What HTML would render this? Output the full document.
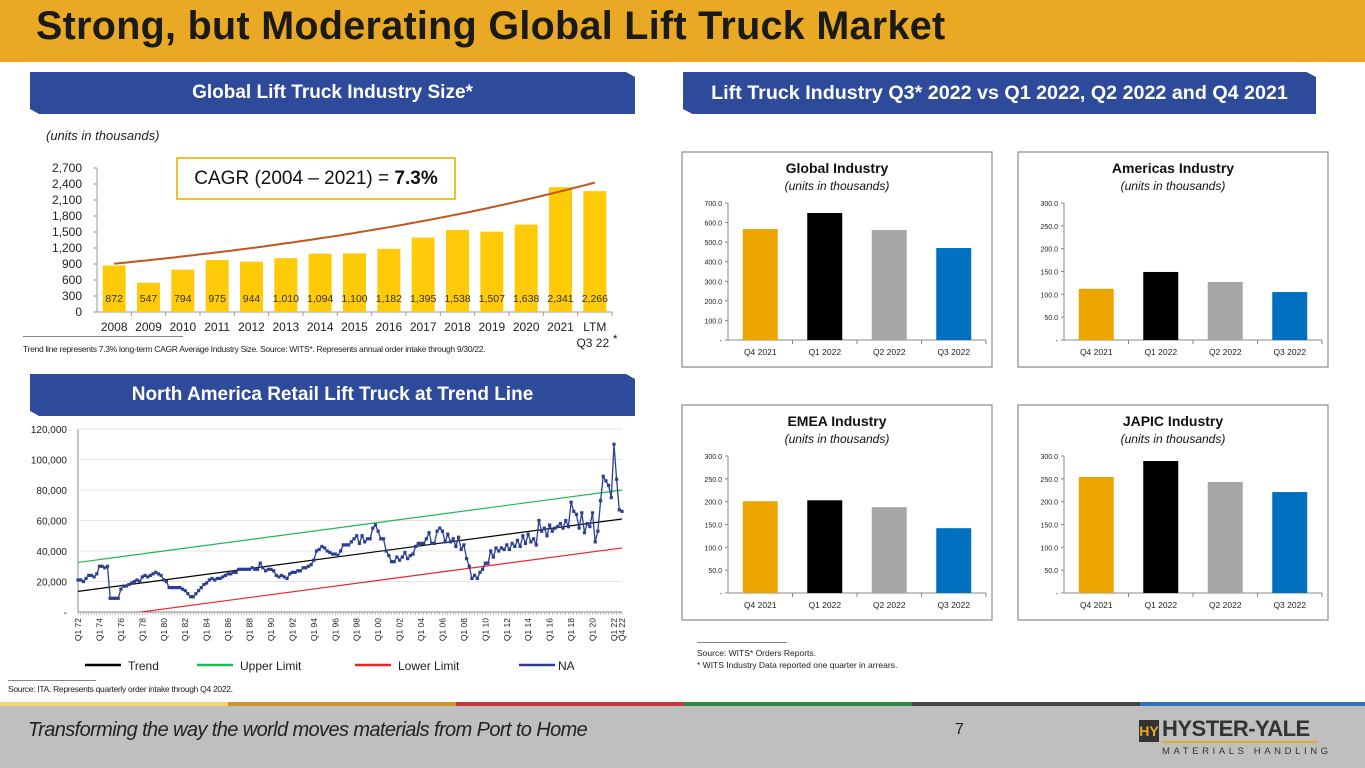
<!DOCTYPE html>
<html><head><meta charset="utf-8">
<style>
body{margin:0;width:1365px;height:768px;overflow:hidden;background:#fff;font-family:"Liberation Sans",sans-serif;position:relative}
.abs{position:absolute}
.banner{position:absolute;background:#2E4A9A;color:#fff;font-weight:bold;font-size:19px;text-align:center;line-height:42px;clip-path:polygon(0 0,98.5% 0,100% 12%,100% 100%,1.5% 100%,0 88%)}
</style></head><body>
<div class="abs" style="left:0;top:0;width:1365px;height:62px;background:#E9A924"></div>
<div class="abs" style="left:36px;top:4px;font-size:39.5px;font-weight:bold;color:#1a1a1a;letter-spacing:0.3px">Strong, but Moderating Global Lift Truck Market</div>
<div class="banner" style="left:30px;top:72px;width:605px;height:42px">Global Lift Truck Industry Size*</div>
<div class="banner" style="left:683px;top:72px;width:633px;height:42px;font-size:19.7px">Lift Truck Industry Q3* 2022 vs Q1 2022, Q2 2022 and Q4 2021</div>
<div class="banner" style="left:30px;top:374px;width:605px;height:42px">North America Retail Lift Truck at Trend Line</div>
<div class="abs" style="left:46px;top:128px;font-size:13px;font-style:italic;color:#222">(units in thousands)</div>
<div class="abs" style="left:176px;top:157px;width:276px;height:39px;border:2px solid #F2C12E;font-size:19px;line-height:39px;text-align:center;color:#111">CAGR (2004 – 2021) = <b>7.3%</b></div>

<svg class="abs" style="left:0;top:0" width="1365" height="768">
<g id="bar1"></g><g id="line1"></g><g id="small"></g>
</svg>

<div class="abs" style="left:23px;top:336px;width:160px;border-top:1px solid #888"></div>
<div class="abs" style="left:23px;top:344px;font-size:8.5px;color:#222;letter-spacing:-0.3px">Trend line represents 7.3% long-term CAGR Average Industry Size. Source:  WITS*.  Represents annual order intake through 9/30/22.</div>
<div class="abs" style="left:8px;top:680px;width:88px;border-top:1px solid #888"></div>
<div class="abs" style="left:8px;top:684px;font-size:8.5px;color:#222;letter-spacing:-0.3px">Source: ITA. Represents quarterly order intake through Q4 2022.</div>
<div class="abs" style="left:697px;top:642px;width:90px;border-top:1px solid #888"></div>
<div class="abs" style="left:697px;top:647px;font-size:8.5px;color:#222;line-height:12px">Source: WITS* Orders Reports.<br>* WITS Industry Data reported one quarter in arrears.</div>

<div class="abs" style="left:0;top:702px;width:228px;height:4px;background:#F3D57A"></div>
<div class="abs" style="left:228px;top:702px;width:228px;height:4px;background:#C8962A"></div>
<div class="abs" style="left:456px;top:702px;width:228px;height:4px;background:#C0393B"></div>
<div class="abs" style="left:684px;top:702px;width:228px;height:4px;background:#2E8B4E"></div>
<div class="abs" style="left:912px;top:702px;width:228px;height:4px;background:#444"></div>
<div class="abs" style="left:1140px;top:702px;width:225px;height:4px;background:#2F72B8"></div>
<div class="abs" style="left:0;top:706px;width:1365px;height:62px;background:#BFBFBF"></div>
<div class="abs" style="left:28px;top:719px;font-size:20px;font-style:italic;color:#222;letter-spacing:-0.6px">Transforming the way the world moves materials from Port to Home</div>
<div class="abs" style="left:955px;top:721px;font-size:16px;color:#222">7</div>
<div class="abs" style="left:1139px;top:720px;width:20px;height:22px;background:#333;color:#E9A924;font-weight:bold;font-size:14px;text-align:center;line-height:22px">HY</div>
<div class="abs" style="left:1162px;top:716px;font-size:22px;font-weight:bold;color:#333;letter-spacing:-0.5px">HYSTER-YALE</div>
<div class="abs" style="left:1162px;top:741px;width:156px;height:2px;background:#E9A924"></div>
<div class="abs" style="left:1162px;top:746px;font-size:9.5px;color:#333;letter-spacing:3.6px">MATERIALS HANDLING</div>

<script>
const NS="http://www.w3.org/2000/svg";
function mk(p,t,a,txt){const e=document.createElementNS(NS,t);for(const k in a)e.setAttribute(k,a[k]);if(txt!==undefined)e.textContent=txt;p.appendChild(e);return e;}

// ---- Chart 1: global industry size ----
const sizeYears=["2008","2009","2010","2011","2012","2013","2014","2015","2016","2017","2018","2019","2020","2021","LTM"];
const sizeValues=[872,547,794,975,944,1010,1094,1100,1182,1395,1538,1507,1638,2341,2266];
const sizeTicks=[0,300,600,900,1200,1500,1800,2100,2400,2700];
const cagrBase=[905];
const cagrRate=[0.073];

// ---- Chart 2: NA retail quarterly (thousands) ----
const naValues=[21,21,20,22,24,24,23,25,30,30,29,30,9,9,9,9,15,17,17,18,19,20,21,20,23,24,23,24,25,26,25,24,21,20,16,16,16,16,16,15,14,12,10,10,12,14,16,18,19,21,22,21,22,22,23,24,25,25,26,26,28,28,28,28,28,29,28,28,32,29,27,28,28,27,24,23,24,23,22,25,26,26,27,27,29,29,30,31,34,40,41,43,42,40,39,38,38,37,40,44,44,44,46,48,50,45,50,46,48,48,55,57,53,48,48,40,37,33,33,36,34,36,39,35,37,38,43,45,45,45,48,52,45,45,53,55,53,46,51,46,48,43,49,41,44,35,30,22,24,22,26,28,32,32,40,36,42,40,42,41,44,41,45,43,47,43,50,45,51,46,48,44,60,53,55,50,57,53,55,56,58,55,60,56,72,66,64,55,65,52,58,56,65,46,53,73,89,86,83,75,110,87,67,66];
const trendEnds=[13.5,61];
const bandWidth=[19];
const naTicks=[0,20000,40000,60000,80000,100000,120000];
const naTickLabels=["-","20,000","40,000","60,000","80,000","100,000","120,000"];

// ---- Small charts ----
const qCats=["Q4 2021","Q1 2022","Q2 2022","Q3 2022"];
const globalVals=[567,649,562,470];
const americasVals=[112,149,127,105];
const emeaVals=[201,203,188,142];
const japicVals=[254,289,243,221];
const globalTicks=[0,100,200,300,400,500,600,700];
const regionTicks=[0,50,100,150,200,250,300];

(function(){
 const g=document.getElementById('bar1');
 const x0=97,x1=612,y0=312,y1=168,max=2700;
 const bw=(x1-x0)/sizeYears.length;
 const y=v=>y0-(v/max)*(y0-y1);
 mk(g,'line',{x1:x0,y1:y1,x2:x0,y2:y0,stroke:'#999'});
 mk(g,'line',{x1:x0,y1:y0,x2:x1,y2:y0,stroke:'#999'});
 sizeTicks.forEach(t=>{const l=mk(g,'text',{x:82,y:y(t)+4,'text-anchor':'end','font-size':12,fill:'#222'},t.toLocaleString('en-US'));
  mk(g,'line',{x1:x0-4,y1:y(t),x2:x0,y2:y(t),stroke:'#999'});});
 sizeYears.forEach((c,i)=>{const cx=x0+bw*(i+.5);
  const r=mk(g,'rect',{x:cx-11.5,y:y(sizeValues[i]),width:23,height:y0-y(sizeValues[i]),fill:'#FFCA08'});
  
  const v=mk(g,'text',{x:cx,y:302,'text-anchor':'middle','font-size':10.5,fill:'#333'},sizeValues[i].toLocaleString('en-US'));
  
  const l=mk(g,'text',{x:cx,y:331,'text-anchor':'middle','font-size':12,fill:'#222'},c);
  
  mk(g,'line',{x1:x0+bw*(i+1),y1:y0,x2:x0+bw*(i+1),y2:y0+4,stroke:'#999'});
 });
 const q=mk(g,'text',{x:x0+bw*14.5-2,y:347,'text-anchor':'middle','font-size':12,fill:'#222'},'Q3 22');
 mk(g,'text',{x:x0+bw*14.5+18,y:343,'font-size':12,fill:'#222'},'*');
 let d='';for(let s=0;s<=140;s++){const i=s/10;const v=cagrBase[0]*Math.pow(1+cagrRate[0],i);d+=(s?'L':'M')+(x0+bw*(i+.5)).toFixed(1)+' '+y(v).toFixed(1);}
 const p=mk(g,'path',{d:d,fill:'none',stroke:'#C0571E','stroke-width':2});
})();

(function(){
 const g=document.getElementById('line1');
 const x0=78,x1=622,y0=612,y1=429,max=120000;
 const n=naValues.length;
 const x=i=>x0+i*(x1-x0)/(n-1);
 const y=v=>y0-(v/max)*(y0-y1);
 mk(g,'line',{x1:x0,y1:y1,x2:x0,y2:y0,stroke:'#888'});
 naTicks.forEach((t,k)=>{if(t>0)mk(g,'line',{x1:x0,y1:y(t),x2:x1,y2:y(t),stroke:'#e4e4e4'});
  const l=mk(g,'text',{x:67,y:y(t)+4,'text-anchor':'end','font-size':10,fill:'#222'},naTickLabels[k]);});
 mk(g,'line',{x1:x0,y1:y0,x2:x1,y2:y0,stroke:'#888'});
 for(let i=0;i<n;i++){mk(g,'line',{x1:x(i),y1:y0,x2:x(i),y2:y0+3,stroke:'#888','stroke-width':0.5});
  if(i%8===0){const yy=(72+i/4)%100;
   const l=mk(g,'text',{x:0,y:0,'font-size':8.5,fill:'#222','text-anchor':'end',transform:`translate(${x(i)+3},${y0+6}) rotate(-90)`},'Q1 '+String(yy).padStart(2,'0'));
   }}
 const l2=mk(g,'text',{x:0,y:0,'font-size':8.5,fill:'#222','text-anchor':'end',transform:`translate(${x(n-1)+3},${y0+6}) rotate(-90)`},'Q4 22');
 const tv=i=>trendEnds[0]+(trendEnds[1]-trendEnds[0])*i/(n-1);
 const clip=mk(g,'clipPath',{id:'lc'});mk(clip,'rect',{x:x0,y:y1,width:x1-x0,height:y0-y1});
 [[0,'#000','trend-line'],[bandWidth[0],'#1DB954','upper-limit-line'],[-bandWidth[0],'#E8262A','lower-limit-line']].forEach(([o,c,nm])=>{
  const ln=mk(g,'line',{x1:x(0),y1:y((tv(0)+o)*1000),x2:x(n-1),y2:y((tv(n-1)+o)*1000),stroke:c,'stroke-width':1.2,'clip-path':'url(#lc)'});
  });
 let d='';naValues.forEach((v,i)=>{d+=(i?'L':'M')+x(i).toFixed(1)+' '+y(v*1000).toFixed(1);});
 const p=mk(g,'path',{d:d,fill:'none',stroke:'#2B3F8F','stroke-width':1.3});
 naValues.forEach((v,i)=>{const m=mk(g,'rect',{x:x(i)-1.6,y:y(v*1000)-1.6,width:3.2,height:3.2,fill:'#2B3F8F'});});
 [[85,'#000','Trend'],[197,'#1DB954','Upper Limit'],[355,'#E8262A','Lower Limit'],[519,'#2B3F8F','NA']].forEach(([lx,c,t])=>{
  const e=mk(g,'line',{x1:lx,y1:665,x2:lx+36,y2:665,stroke:c,'stroke-width':2.5});
  const tt=mk(g,'text',{x:lx+(t==='NA'?39:43),y:670,'font-size':12,fill:'#222'},t);});
})();

(function(){
 const g=document.getElementById('small');
 const colors=['#EDA600','#000000','#A6A6A6','#0070C0'];
 const charts=[[682,152,'Global Industry',globalVals,globalTicks,700],[1018,152,'Americas Industry',americasVals,regionTicks,300],[682,405,'EMEA Industry',emeaVals,regionTicks,300],[1018,405,'JAPIC Industry',japicVals,regionTicks,300]];
 charts.forEach(([bx,by,title,vals,ticks,max])=>{
  const b=mk(g,'rect',{x:bx,y:by,width:310,height:215,fill:'#fff',stroke:'#8a8a8a','stroke-width':1.2});
  
  mk(g,'text',{x:bx+155,y:by+21,'text-anchor':'middle','font-size':14,'font-weight':'bold',fill:'#111'},title);
  mk(g,'text',{x:bx+155,y:by+38,'text-anchor':'middle','font-size':12,'font-style':'italic',fill:'#111'},'(units in thousands)');
  const px0=bx+46,px1=bx+304,py0=by+188,py1=by+51;
  const y=v=>py0-(v/max)*(py0-py1);
  mk(g,'line',{x1:px0,y1:py1,x2:px0,y2:py0,stroke:'#888'});
  mk(g,'line',{x1:px0,y1:py0,x2:px1,y2:py0,stroke:'#888'});
  ticks.forEach(t=>{mk(g,'line',{x1:px0-3,y1:y(t),x2:px0,y2:y(t),stroke:'#888'});
   const l=mk(g,'text',{x:px0-6,y:y(t)+3,'text-anchor':'end','font-size':7,fill:'#222'},t===0?'-':t.toFixed(1));});
  const cw=(px1-px0)/qCats.length;
  qCats.forEach((c,i)=>{const cx=px0+cw*(i+.5);
   const r=mk(g,'rect',{x:cx-17.5,y:y(vals[i]),width:35,height:py0-y(vals[i]),fill:colors[i]});
   const l=mk(g,'text',{x:cx,y:py0+15,'text-anchor':'middle','font-size':8.5,fill:'#222'},c);
   mk(g,'line',{x1:px0+cw*(i+1),y1:py0,x2:px0+cw*(i+1),y2:py0+4,stroke:'#888'});});
 });
})();
</script>
</body></html>
